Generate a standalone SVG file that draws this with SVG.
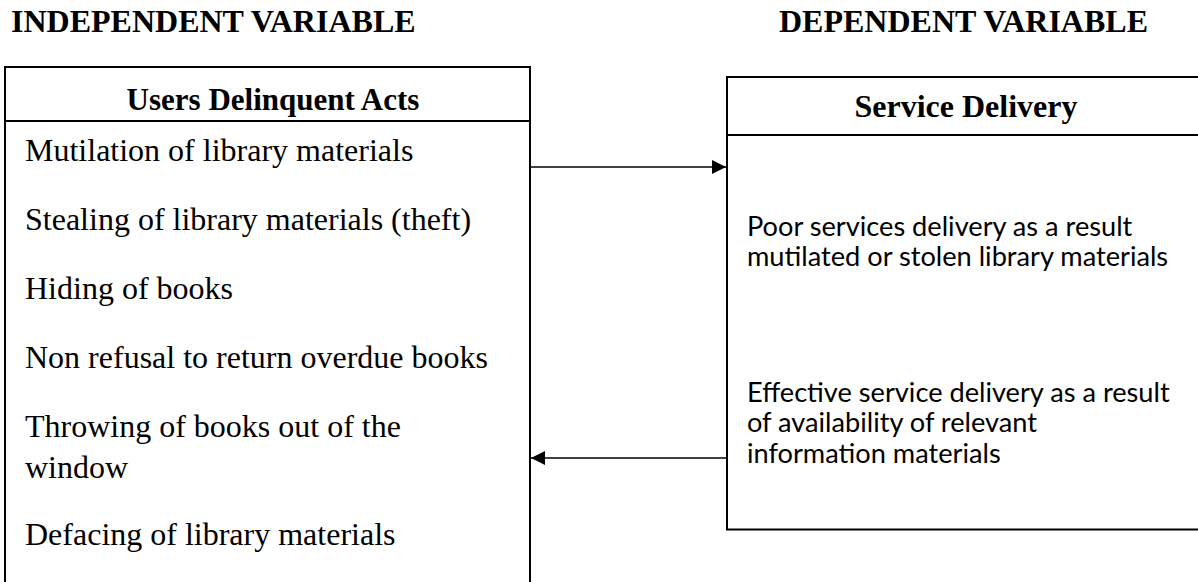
<svg xmlns="http://www.w3.org/2000/svg" width="1198" height="582" viewBox="0 0 1198 582">
  <style>
    .title { font-family: "Liberation Serif", "Times New Roman", serif; font-weight: bold; font-size: 32px; fill: #000; }
    .head { font-family: "Liberation Serif", "Times New Roman", serif; font-weight: bold; fill: #000; }
    .item { font-family: "Liberation Serif", "Times New Roman", serif; font-size: 32px; fill: #000; }
    .note { font-family: Lato, "Open Sans", sans-serif; font-size: 27.2px; fill: #000; }
    .box { fill: #fff; stroke: #000; stroke-width: 2; }
    .rule { stroke: #000; stroke-width: 2; }
    .link { stroke: #000; stroke-width: 1.6; fill: none; }
  </style>
  <defs>
    <marker id="arrowhead" viewBox="0 0 10 10" refX="10" refY="5" markerWidth="9" markerHeight="9" markerUnits="strokeWidth" orient="auto">
      <path d="M0,0 L10,5 L0,10 Z" fill="#000"/>
    </marker>
  </defs>
  <rect width="1198" height="582" fill="#fff"/>

  <text class="title" x="11" y="32">INDEPENDENT VARIABLE</text>
  <text class="title" x="779" y="32">DEPENDENT VARIABLE</text>

  <!-- left node: delinquent acts -->
  <g id="users-delinquent-acts">
    <rect class="box" x="5" y="67" width="525" height="530"/>
    <line class="rule" x1="5" y1="121" x2="530" y2="121"/>
    <text class="head" x="273" y="110" font-size="31" text-anchor="middle">Users Delinquent Acts</text>
    <text class="item" x="25" y="161">Mutilation of library materials</text>
    <text class="item" x="25" y="230">Stealing of library materials (theft)</text>
    <text class="item" x="25" y="299">Hiding of books</text>
    <text class="item" x="25" y="368">Non refusal to return overdue books</text>
    <text class="item" x="25" y="437">Throwing of books out of the</text>
    <text class="item" x="25" y="478">window</text>
    <text class="item" x="25" y="545">Defacing of library materials</text>
  </g>

  <!-- right node: service delivery -->
  <g id="service-delivery">
    <rect class="box" x="727" y="77" width="490" height="452.5"/>
    <line class="rule" x1="727" y1="135" x2="1217" y2="135"/>
    <text class="head" x="966" y="117" font-size="32" text-anchor="middle">Service Delivery</text>
    <text class="note" x="747" y="236">Poor services delivery as a result</text>
    <text class="note" x="747" y="266">mutilated or stolen library materials</text>
    <text class="note" x="747" y="402">Effective service delivery as a result</text>
    <text class="note" x="747" y="432">of availability of relevant</text>
    <text class="note" x="747" y="463">information materials</text>
  </g>

  <g id="connectors">
    <line class="link" x1="531" y1="167" x2="726" y2="167" marker-end="url(#arrowhead)"/>
    <line class="link" x1="726" y1="458" x2="531" y2="458" marker-end="url(#arrowhead)"/>
  </g>
</svg>
